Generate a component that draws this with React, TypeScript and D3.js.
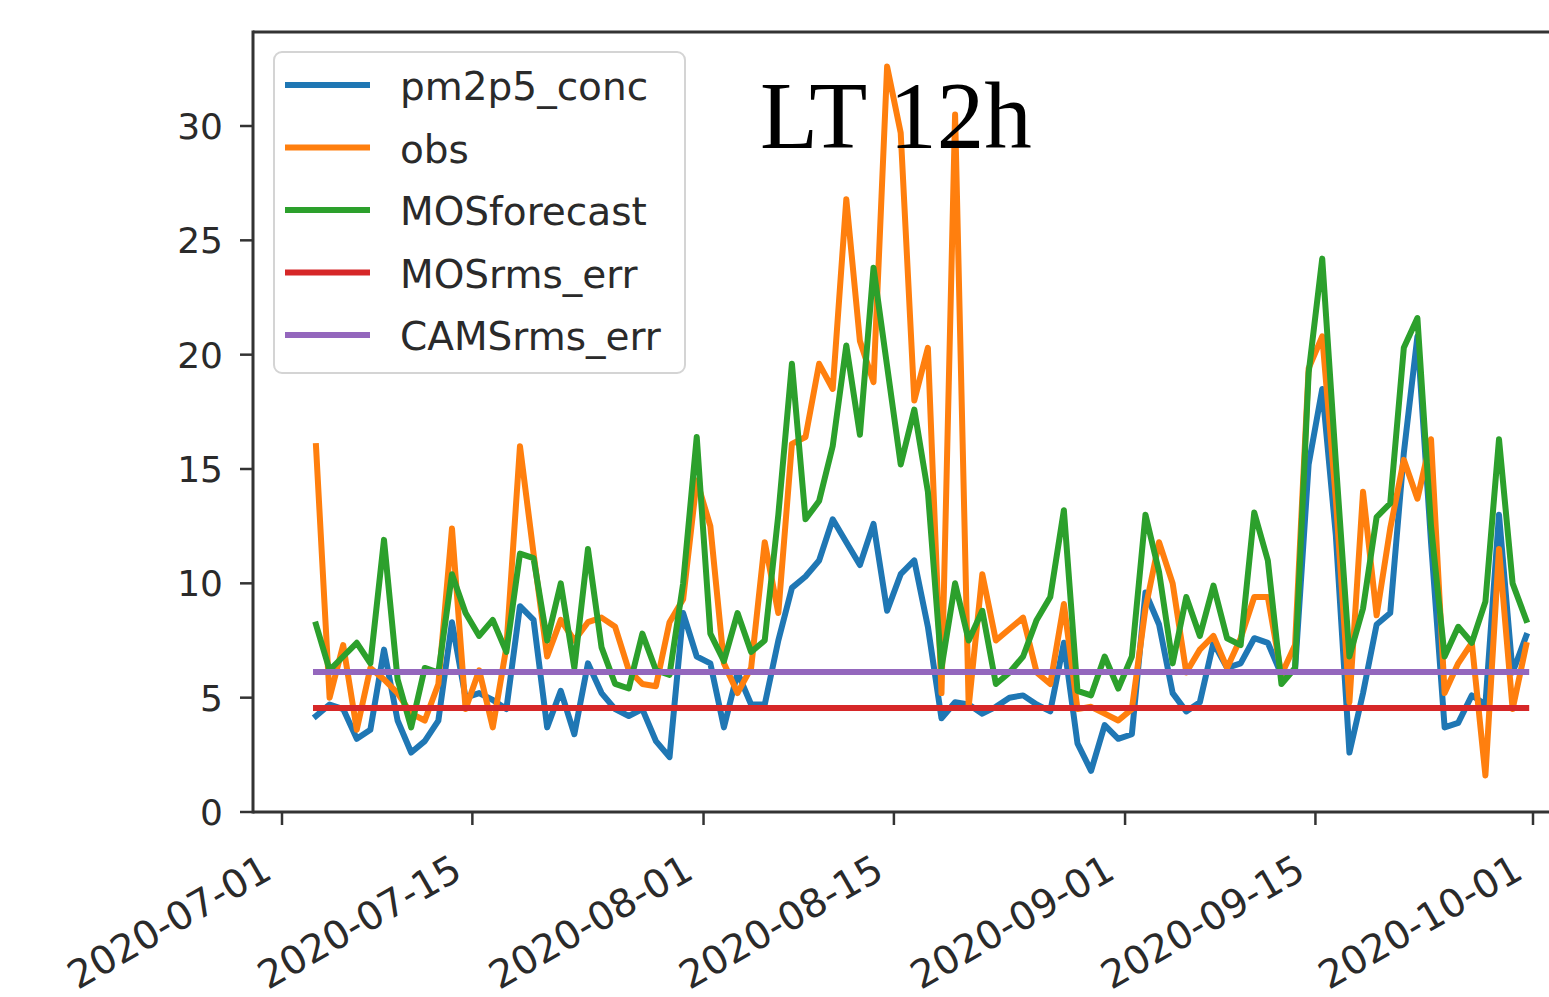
import * as React from 'react';
import * as d3 from 'd3';

// daily values, 2020-07-03 .. 2020-09-30 (valid at 12 UTC)
const startDay = Date.UTC(2020, 6, 3);
const endDay = Date.UTC(2020, 9, 1);

const pm2p5Conc = [
  4.2, 4.7, 4.5, 3.2, 3.6, 7.1, 4.0, 2.6, 3.1, 4.0,
  8.3, 5.0, 5.2, 4.9, 4.5, 9.0, 8.4, 3.7, 5.3, 3.4,
  6.5, 5.2, 4.5, 4.2, 4.5, 3.1, 2.4, 8.7, 6.8, 6.5,
  3.7, 6.1, 4.7, 4.7, 7.5, 9.8, 10.3, 11.0, 12.8, 11.8,
  10.8, 12.6, 8.8, 10.4, 11.0, 8.1, 4.1, 4.8, 4.7, 4.3,
  4.6, 5.0, 5.1, 4.7, 4.4, 7.4, 3.0, 1.8, 3.8, 3.2,
  3.4, 9.6, 8.2, 5.2, 4.4, 4.8, 7.4, 6.3, 6.5, 7.6,
  7.4, 6.0, 6.2, 15.2, 18.5, 12.1, 2.6, 5.2, 8.2, 8.7,
  15.7, 20.8, 11.8, 3.7, 3.9, 5.1, 4.7, 13.0, 6.1, 7.7,
];

const obs = [
  16.0, 5.0, 7.3, 3.6, 6.3, 5.8, 5.2, 4.3, 4.0, 5.6,
  12.4, 4.5, 6.2, 3.7, 7.2, 16.0, 11.3, 6.8, 8.4, 7.5,
  8.3, 8.5, 8.1, 6.2, 5.6, 5.5, 8.3, 9.3, 14.5, 12.5,
  6.5, 5.2, 6.3, 11.8, 8.7, 16.1, 16.4, 19.6, 18.5, 26.8,
  20.6, 18.8, 32.6, 29.7, 18.0, 20.3, 5.2, 30.5, 4.6, 10.4,
  7.5, 8.0, 8.5, 6.1, 5.6, 9.1, 4.5, 4.6, 4.3, 4.0,
  4.5, 8.9, 11.8, 10.0, 6.1, 7.1, 7.7, 6.3, 7.6, 9.4,
  9.4, 6.0, 7.3, 19.4, 20.8, 13.7, 4.8, 14.0, 8.6, 12.4,
  15.4, 13.7, 16.3, 5.2, 6.5, 7.4, 1.6, 11.5, 4.5, 7.3,
];

const mosForecast = [
  8.2, 6.2, 6.8, 7.4, 6.5, 11.9, 5.8, 3.7, 6.3, 6.1,
  10.4, 8.7, 7.7, 8.4, 7.0, 11.3, 11.1, 7.5, 10.0, 6.3,
  11.5, 7.2, 5.6, 5.4, 7.8, 6.2, 6.0, 10.0, 16.4, 7.8,
  6.6, 8.7, 7.0, 7.5, 13.0, 19.6, 12.8, 13.6, 16.0, 20.4,
  16.5, 23.8, 19.5, 15.2, 17.6, 14.0, 6.3, 10.0, 7.5, 8.8,
  5.6, 6.1, 6.8, 8.4, 9.4, 13.2, 5.3, 5.1, 6.8, 5.4,
  6.8, 13.0, 10.5, 6.5, 9.4, 7.7, 9.9, 7.6, 7.3, 13.1,
  11.0, 5.6, 6.3, 19.2, 24.2, 15.3, 6.8, 8.9, 12.9, 13.5,
  20.3, 21.6, 12.5, 6.8, 8.1, 7.4, 9.2, 16.3, 10.0, 8.4,
];

const mosRmsErr = 4.55;
const camsRmsErr = 6.12;

const seriesNames = ['pm2p5_conc', 'obs', 'MOSforecast', 'MOSrms_err', 'CAMSrms_err'];
const colors = ['#1f77b4', '#ff7f0e', '#2ca02c', '#d62728', '#9467bd'];
const yTicks = [0, 5, 10, 15, 20, 25, 30];
const xTickDates = ['2020-07-01', '2020-07-15', '2020-08-01', '2020-08-15', '2020-09-01', '2020-09-15', '2020-10-01'];

const W = 1549;
const H = 997;
const left = 253;
const top = 32;
const bottom = 812;
const right = 1587;
const tickFont = 'DejaVu Sans, sans-serif';

const App = () => {
  const dates = d3.utcDay
    .range(new Date(startDay), new Date(endDay))
    .map((d) => d3.utcHour.offset(d, 12));
  const x = d3
    .scaleUtc()
    .domain([new Date(Date.UTC(2020, 6, 1)), new Date(Date.UTC(2020, 9, 1))])
    .range([282, 1533]);
  const y = d3.scaleLinear().domain([0, 30]).range([bottom, 126]);

  const line = d3
    .line<number>()
    .x((d, i) => x(dates[i]))
    .y((d) => y(d));

  const constant = (v) => dates.map(() => v);
  const allSeries = [pm2p5Conc, obs, mosForecast, constant(mosRmsErr), constant(camsRmsErr)];

  return (
    <svg
      width={W}
      height={H}
      style={{ position: 'absolute', left: 0, top: 0, background: 'white' }}>
      <rect x={0} y={0} width={W} height={H} fill='white' />
      <defs>
        <clipPath id='plot'>
          <rect x={left} y={top} width={right - left} height={bottom - top} />
        </clipPath>
      </defs>

      <g clipPath='url(#plot)'>
        {allSeries.map((s, i) => (
          <path
            key={i}
            d={line(s)}
            fill='none'
            stroke={colors[i]}
            strokeWidth={6}
            strokeLinejoin='round'
            strokeLinecap='square'
          />
        ))}
      </g>

      {/* spines */}
      <g stroke='#333' strokeWidth={3} fill='none'>
        <line x1={left} x2={left} y1={top - 1.5} y2={bottom + 1.5} />
        <line x1={left} x2={right} y1={top} y2={top} />
        <line x1={left} x2={right} y1={bottom} y2={bottom} />
        <line x1={right} x2={right} y1={top} y2={bottom} />
      </g>

      {/* y axis */}
      {yTicks.map((t) => (
        <g key={t}>
          <line x1={left - 13} x2={left} y1={y(t)} y2={y(t)} stroke='#333' strokeWidth={2.5} />
          <text
            x={left - 30}
            y={y(t)}
            dy='0.36em'
            textAnchor='end'
            fontFamily={tickFont}
            fontSize={36}
            fill='#2a2a2a'>
            {t}
          </text>
        </g>
      ))}

      {/* x axis */}
      {xTickDates.map((t) => {
        const xp = x(new Date(t + 'T00:00:00Z'));
        return (
          <g key={t}>
            <line x1={xp} x2={xp} y1={bottom} y2={bottom + 13} stroke='#333' strokeWidth={2.5} />
            <text
              transform={`translate(${xp - 8},${bottom + 65}) rotate(-30)`}
              textAnchor='end'
              fontFamily={tickFont}
              fontSize={39}
              fill='#2a2a2a'>
              {t}
            </text>
          </g>
        );
      })}

      {/* legend */}
      <g>
        <rect
          x={274}
          y={52}
          width={411}
          height={321}
          rx={8}
          fill='white'
          fillOpacity={0.8}
          stroke='#d4d4d4'
          strokeWidth={2}
        />
        {seriesNames.map((name, i) => {
          const ly = 85 + i * 62.5;
          return (
            <g key={name}>
              <line x1={285} x2={370} y1={ly} y2={ly} stroke={colors[i]} strokeWidth={6} />
              <text
                x={400}
                y={ly + 15}
                fontFamily={tickFont}
                fontSize={39}
                fill='#2a2a2a'>
                {name}
              </text>
            </g>
          );
        })}
      </g>

      <text x={760} y={148} fontFamily='Liberation Serif, serif' fontSize={95} fill='black'>
        LT 12h
      </text>
    </svg>
  );
};

export default App;
